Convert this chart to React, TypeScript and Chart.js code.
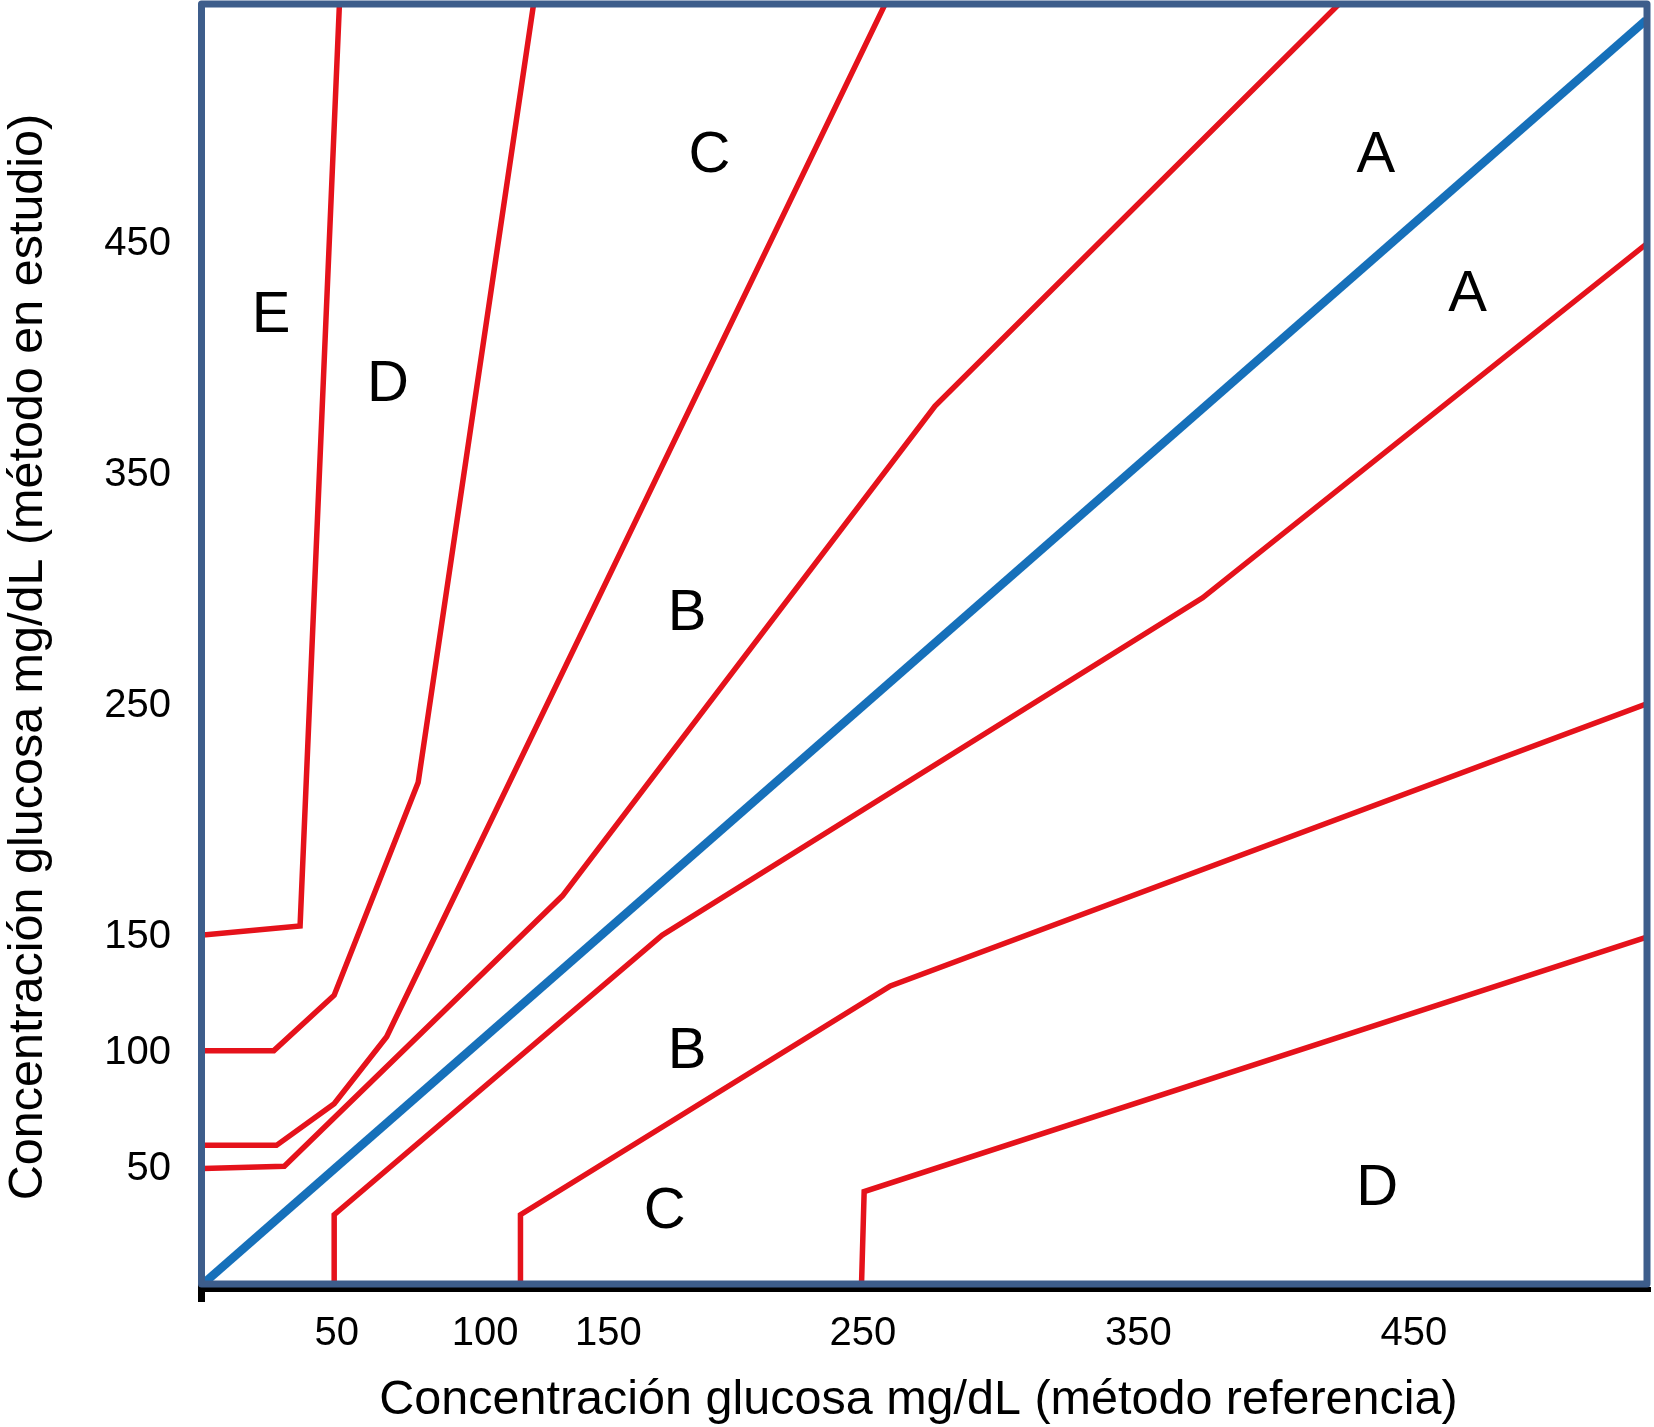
import React, { useEffect, useRef } from "react";
import { Chart, registerables } from "chart.js";

Chart.register(...registerables);

// ---- Data (Parkes-style consensus error grid boundaries) ----
const identityLine: [number, number][] = [[0, 0], [550, 547]];

const abUpper: [number, number][] = [[0, 50], [31, 51], [137, 168], [279, 380], [433, 554]];
const abLower: [number, number][] = [[50, 0], [50, 30], [175, 151], [381, 297], [550, 450]];
const bcUpper: [number, number][] = [[0, 60], [28, 60], [50, 78], [70, 107], [260, 554]];
const bcLower: [number, number][] = [[121, 0], [121, 30], [262, 129], [550, 251]];
const cdUpper: [number, number][] = [[0, 101], [27, 101], [50, 125], [82, 217], [126, 554]];
const cdLower: [number, number][] = [[251, 0], [252, 40], [550, 150]];
const deUpper: [number, number][] = [[0, 151], [37, 155], [52, 554]];

const zoneLetters = ["C", "A", "A", "E", "D", "B", "B", "C", "D"];
const zoneX = [193, 447, 482, 26, 70.5, 184.5, 184.5, 176, 447.5];
const zoneY = [488, 488, 428, 419, 389, 290, 100.5, 31, 41];

const xTickValues = [51, 107.5, 154.5, 251.5, 356.5, 461.5];
const xTickLabels = ["50", "100", "150", "250", "350", "450"];
const yTickValues = [50, 100, 150, 250, 350, 450];
const yTickLabels = ["50", "100", "150", "250", "350", "450"];

const xTitle = "Concentración glucosa mg/dL (método referencia)";
const yTitle = "Concentración glucosa mg/dL (método en estudio)";

const FONT = "'Liberation Sans', Arial, Helvetica, sans-serif";
const RED = "#e5121b";
const BLUE = "#1670ba";
const FRAME = "#3d5d8b";

const toPts = (arr: [number, number][]) => arr.map(([x, y]) => ({ x, y }));

const gridPlugin = {
  id: "gridDecor",
  afterDatasetsDraw(chart: any) {
    const { ctx, chartArea, scales } = chart;
    const { left, right, top, bottom } = chartArea;
    ctx.save();
    // zone letters
    ctx.fillStyle = "#000";
    ctx.font = `58px ${FONT}`;
    ctx.textAlign = "center";
    ctx.textBaseline = "middle";
    zoneLetters.forEach((t, i) => {
      ctx.fillText(t, scales.x.getPixelForValue(zoneX[i]), scales.y.getPixelForValue(zoneY[i]));
    });
    // axis titles
    ctx.font = `48.5px ${FONT}`;
    ctx.fillText(xTitle, (left + right) / 2 - 6, bottom + 117);
    ctx.save();
    ctx.translate(28.5, (top + bottom) / 2 + 13);
    ctx.rotate(-Math.PI / 2);
    ctx.fillText(yTitle, 0, 0);
    ctx.restore();
    // black x-axis line under the frame + left tick
    ctx.fillStyle = "#000";
    ctx.fillRect(left - 5, bottom + 3, right - left + 10, 5);
    ctx.fillRect(left - 5, bottom, 7, 18);
    // frame
    ctx.strokeStyle = FRAME;
    ctx.lineWidth = 7;
    ctx.lineJoin = "round";
    ctx.strokeRect(left - 1.5, top, right - left + 2.5, bottom - top);
    ctx.restore();
  },
};

export default function App() {
  const ref = useRef<HTMLCanvasElement | null>(null);

  useEffect(() => {
    if (!ref.current) return;
    const redLine = (data: [number, number][]) => ({
      data: toPts(data),
      showLine: true,
      borderColor: RED,
      borderWidth: 5.5,
      pointRadius: 0,
      fill: false,
      tension: 0,
    });
    const chart = new Chart(ref.current, {
      type: "scatter",
      data: {
        datasets: [
          redLine(abUpper),
          redLine(abLower),
          redLine(bcUpper),
          redLine(bcLower),
          redLine(cdUpper),
          redLine(cdLower),
          redLine(deUpper),
          {
            data: toPts(identityLine),
            showLine: true,
            borderColor: BLUE,
            borderWidth: 8.5,
            pointRadius: 0,
            fill: false,
          },
        ],
      },
      options: {
        animation: false,
        responsive: false,
        devicePixelRatio: 1,
        layout: { padding: { top: 4, right: 8, bottom: 0, left: 0 } },
        plugins: { legend: { display: false }, tooltip: { enabled: false } },
        scales: {
          x: {
            type: "linear",
            min: 0,
            max: 550,
            grid: { display: false, drawTicks: false },
            border: { display: false },
            afterBuildTicks: (s: any) => {
              s.ticks = xTickValues.map((v) => ({ value: v }));
            },
            afterFit: (s: any) => {
              s.height = 143;
              s.paddingLeft = 0;
              s.paddingRight = 0;
              s.paddingTop = 0;
              s.paddingBottom = 0;
            },
            ticks: {
              autoSkip: false,
              maxRotation: 0,
              padding: 26,
              color: "#000",
              font: { family: FONT, size: 40 },
              callback: (_v: any, i: number) => xTickLabels[i],
            },
            title: { display: false },
          },
          y: {
            type: "linear",
            min: 0,
            max: 554,
            grid: { display: false, drawTicks: false },
            border: { display: false },
            afterBuildTicks: (s: any) => {
              s.ticks = yTickValues.map((v) => ({ value: v }));
            },
            afterFit: (s: any) => {
              s.width = 203;
              s.paddingLeft = 0;
              s.paddingRight = 0;
              s.paddingTop = 0;
              s.paddingBottom = 0;
            },
            ticks: {
              autoSkip: false,
              padding: 32,
              color: "#000",
              font: { family: FONT, size: 40 },
              callback: (_v: any, i: number) => yTickLabels[i],
            },
            title: { display: false },
          },
        },
      },
      plugins: [gridPlugin],
    } as any);
    return () => chart.destroy();
  }, []);

  return (
    <div style={{ position: "absolute", left: 0, top: 0, width: 1654, height: 1427, background: "#fff" }}>
      <canvas ref={ref} width={1654} height={1427} style={{ width: 1654, height: 1427, display: "block" }} />
    </div>
  );
}
